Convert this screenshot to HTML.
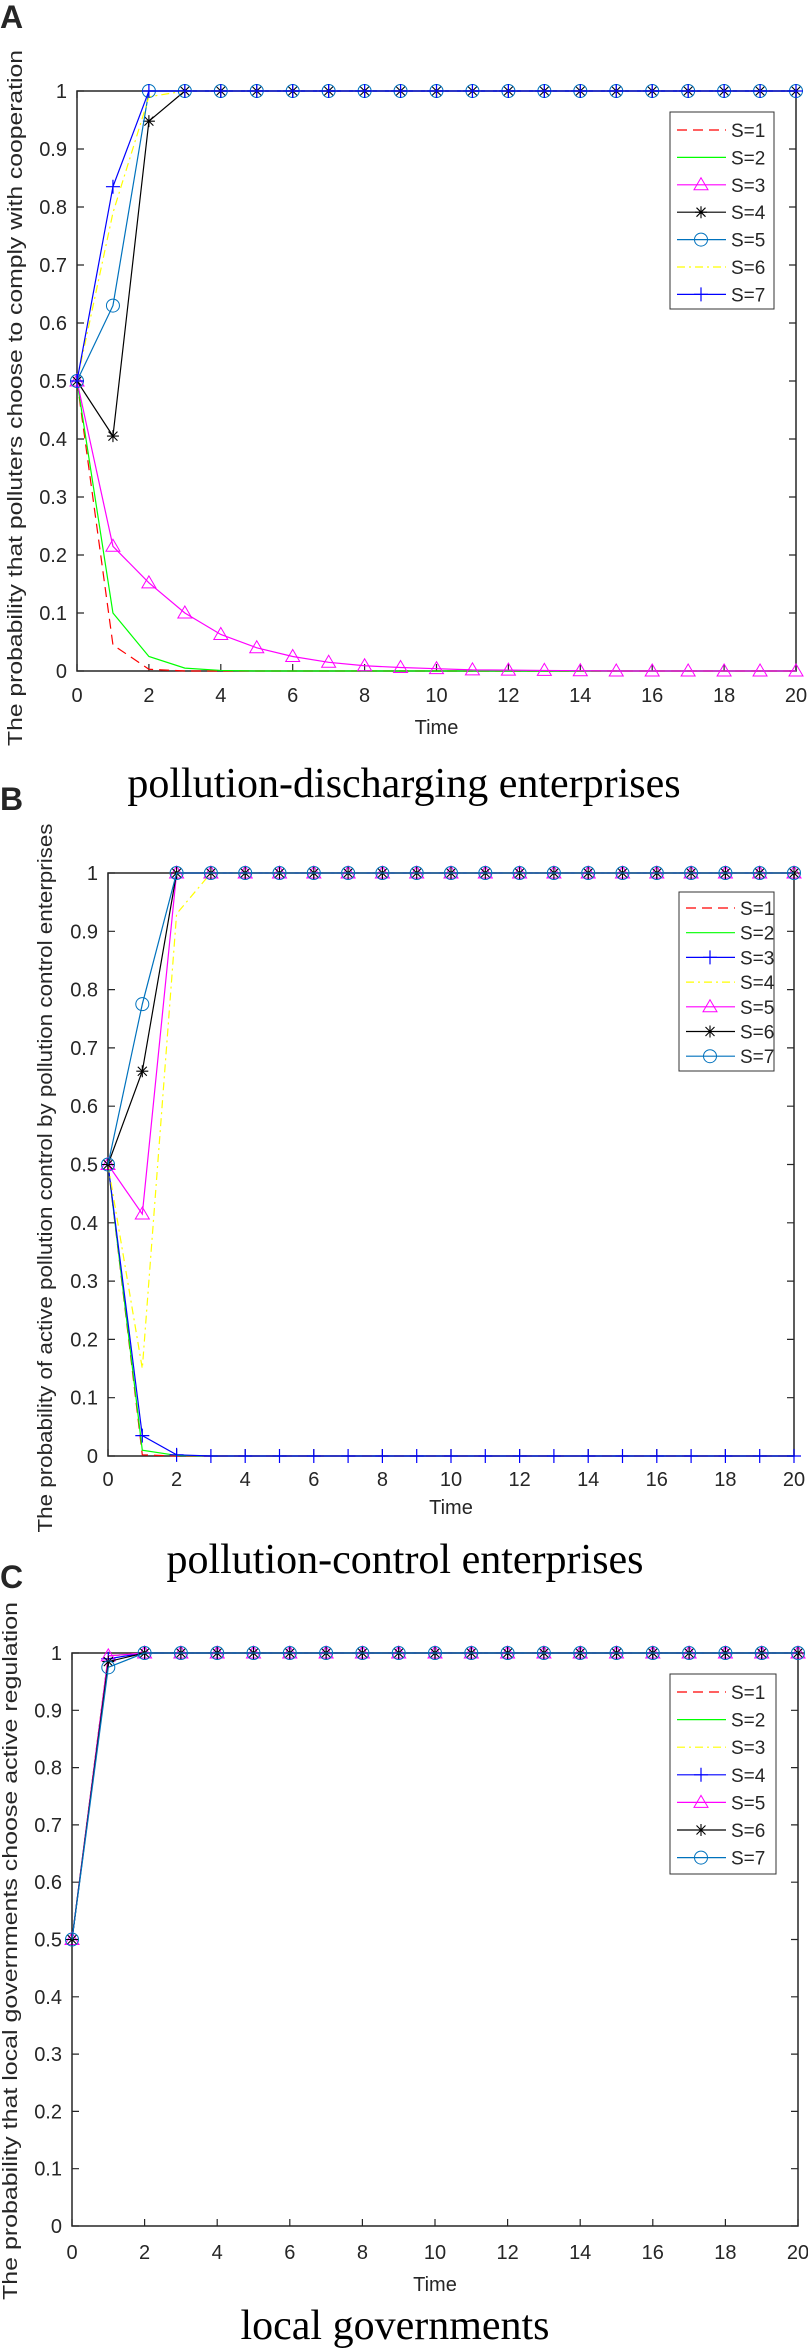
<!DOCTYPE html>
<html><head><meta charset="utf-8"><style>
html,body{margin:0;padding:0;background:#fff;}
svg{display:block;}
text{font-family:"Liberation Sans",Arial,sans-serif;fill:#262626;}
.serif{font-family:"Liberation Serif","Times New Roman",serif;fill:#000;}
</style></head><body>
<svg id="fig" width="808" height="2350" viewBox="0 0 808 2350" xmlns="http://www.w3.org/2000/svg"></svg>
<script>
// ---- data ----
const timeSteps = [0,1,2,3,4,5,6,7,8,9,10,11,12,13,14,15,16,17,18,19,20];
const xTickLabels = [0,2,4,6,8,10,12,14,16,18,20];
const yTickLabels = [0,0.1,0.2,0.3,0.4,0.5,0.6,0.7,0.8,0.9,1];
const seriesNames = ["S=1","S=2","S=3","S=4","S=5","S=6","S=7"];
// Panel A
const A_s1 = [0.5,0.045,0.003,0,0,0,0,0,0,0,0,0,0,0,0,0,0,0,0,0,0];
const A_s2 = [0.5,0.10,0.025,0.005,0.001,0,0,0,0,0,0,0,0,0,0,0,0,0,0,0,0];
const A_s3 = [0.5,0.215,0.152,0.10,0.063,0.040,0.025,0.015,0.009,0.006,0.004,0.002,0.0015,0.001,0.0005,0,0,0,0,0,0];
const A_s4 = [0.5,0.405,0.948,1,1,1,1,1,1,1,1,1,1,1,1,1,1,1,1,1,1];
const A_s5 = [0.5,0.63,1,1,1,1,1,1,1,1,1,1,1,1,1,1,1,1,1,1,1];
const A_s6 = [0.5,0.79,0.99,1,1,1,1,1,1,1,1,1,1,1,1,1,1,1,1,1,1];
const A_s7 = [0.5,0.835,1,1,1,1,1,1,1,1,1,1,1,1,1,1,1,1,1,1,1];
// Panel B
const B_s1 = [0.5,0.002,0,0,0,0,0,0,0,0,0,0,0,0,0,0,0,0,0,0,0];
const B_s2 = [0.5,0.01,0.001,0,0,0,0,0,0,0,0,0,0,0,0,0,0,0,0,0,0];
const B_s3 = [0.5,0.035,0.002,0,0,0,0,0,0,0,0,0,0,0,0,0,0,0,0,0,0];
const B_s4 = [0.5,0.15,0.93,1,1,1,1,1,1,1,1,1,1,1,1,1,1,1,1,1,1];
const B_s5 = [0.5,0.415,1,1,1,1,1,1,1,1,1,1,1,1,1,1,1,1,1,1,1];
const B_s6 = [0.5,0.66,1,1,1,1,1,1,1,1,1,1,1,1,1,1,1,1,1,1,1];
const B_s7 = [0.5,0.775,1,1,1,1,1,1,1,1,1,1,1,1,1,1,1,1,1,1,1];
// Panel C
const C_s1 = [0.5,0.995,1,1,1,1,1,1,1,1,1,1,1,1,1,1,1,1,1,1,1];
const C_s2 = [0.5,0.995,1,1,1,1,1,1,1,1,1,1,1,1,1,1,1,1,1,1,1];
const C_s3 = [0.5,0.995,1,1,1,1,1,1,1,1,1,1,1,1,1,1,1,1,1,1,1];
const C_s4 = [0.5,0.99,1,1,1,1,1,1,1,1,1,1,1,1,1,1,1,1,1,1,1];
const C_s5 = [0.5,0.995,1,1,1,1,1,1,1,1,1,1,1,1,1,1,1,1,1,1,1];
const C_s6 = [0.5,0.985,1,1,1,1,1,1,1,1,1,1,1,1,1,1,1,1,1,1,1];
const C_s7 = [0.5,0.975,1,1,1,1,1,1,1,1,1,1,1,1,1,1,1,1,1,1,1];

const NS = "http://www.w3.org/2000/svg";
const svg = document.getElementById('fig');
function mk(tag, attrs, parent){
  const e = document.createElementNS(NS, tag);
  for (const k in attrs) e.setAttribute(k, attrs[k]);
  (parent||svg).appendChild(e);
  return e;
}
const ST = {
  r:{color:"#ff0000",dash:"10,6",marker:null},
  g:{color:"#00ff00",dash:null,marker:null},
  y:{color:"#ffff00",dash:"8,4,2,4",marker:null},
  m:{color:"#ff00ff",dash:null,marker:"tri"},
  k:{color:"#000000",dash:null,marker:"star"},
  c:{color:"#0072bd",dash:null,marker:"circ"},
  b:{color:"#0000ff",dash:null,marker:"plus"}
};
function marker(g, type, x, y, color){
  let e;
  if (type==="circ"){ e = mk('circle',{cx:x,cy:y,r:6.5,fill:"none",stroke:color,"stroke-width":1},g); }
  else if (type==="tri"){ e = mk('path',{d:`M${x},${y-7} L${x+7},${y+5} L${x-7},${y+5} Z`,fill:"none",stroke:color,"stroke-width":1},g); }
  else if (type==="plus"){ e = mk('path',{d:`M${x-7},${y} H${x+7} M${x},${y-7} V${y+7}`,stroke:color,"stroke-width":1.2},g); }
  else if (type==="star"){ e = mk('path',{d:`M${x-6},${y} H${x+6} M${x},${y-6} V${y+6} M${x-4.5},${y-4.5} L${x+4.5},${y+4.5} M${x-4.5},${y+4.5} L${x+4.5},${y-4.5}`,stroke:color,"stroke-width":1.1},g); }
  if (e){
    
    
  }
}
function panel(cfg){
  const {L,R,T,B,letter,letterY,ylabel,ylx,yly,ylLen,timeY,tickY,sub,subX,subY,series,styles,leg} = cfg;
  const g = mk('g',{});
  
  
  const xs = t => L + (t-0)/(20-0)*(R-L);
  const ys = v => B - v*(B-T);
  const lt = mk('text',{x:0,y:letterY,"font-size":32,"font-weight":"bold",fill:"#000"},g);
  lt.textContent = letter;
  
  
  const box = mk('rect',{x:L,y:T,width:R-L,height:B-T,fill:"none",stroke:"#262626","stroke-width":1.5},g);
  
  
  xTickLabels.forEach(t=>{
    const x = xs(t);
    mk('path',{d:`M${x},${B} V${B-7} M${x},${T} V${T+7}`,stroke:"#262626","stroke-width":1.2},g);
    const tx = mk('text',{x:x,y:tickY+7,"font-size":20,"text-anchor":"middle"},g);
    tx.textContent = t;
    
    
  });
  yTickLabels.forEach(v=>{
    const y = ys(v);
    mk('path',{d:`M${L},${y} H${L+7} M${R},${y} H${R-7}`,stroke:"#262626","stroke-width":1.2},g);
    const tx = mk('text',{x:L-10,y:y+7,"font-size":20,"text-anchor":"end"},g);
    tx.textContent = v;
    
    
  });
  const tl = mk('text',{x:(L+R)/2,y:timeY+7,"font-size":20,"text-anchor":"middle"},g);
  tl.textContent = "Time";
  
  
  const yl = mk('text',{x:0,y:0,"font-size":20,"text-anchor":"middle",transform:`translate(${ylx},${yly}) rotate(-90)`,textLength:ylLen,lengthAdjust:"spacingAndGlyphs"},g);
  yl.textContent = ylabel;
  
  
  series.forEach((data,i)=>{
    const st = ST[styles[i]];
    const sg = mk('g',{},g);
    
    
    const pts = data.map((v,j)=>`${xs(timeSteps[j]).toFixed(2)},${ys(v).toFixed(2)}`).join(' ');
    const pl = mk('polyline',{points:pts,fill:"none",stroke:st.color,"stroke-width":1.2},sg);
    if (st.dash) pl.setAttribute('stroke-dasharray',st.dash);
    
    
    if (st.marker) data.forEach((v,j)=>marker(sg,st.marker,xs(timeSteps[j]),ys(v),st.color));
  });
  const lg = mk('g',{},g);
  
  
  mk('rect',{x:leg.x,y:leg.y,width:leg.w,height:leg.h,fill:"#fff",stroke:"#333","stroke-width":1},lg);
  seriesNames.forEach((n,i)=>{
    const st = ST[styles[i]];
    const y = leg.y0 + i*leg.dy;
    const eg = mk('g',{},lg);
    
    
    const ln = mk('line',{x1:leg.x+7,x2:leg.x+56,y1:y,y2:y,stroke:st.color,"stroke-width":1.2},eg);
    if (st.dash) ln.setAttribute('stroke-dasharray',st.dash);
    if (st.marker) marker(eg,st.marker,leg.x+31,y,st.color);
    const t = mk('text',{x:leg.x+61,y:y+7,"font-size":19,fill:"#000"},eg);
    t.textContent = n;
  });
  const s = mk('text',{x:subX,y:subY,"font-size":42,"text-anchor":"middle",class:"serif"},g);
  s.textContent = sub;
  
  
}
panel({name:'panel-a-polluters',L:77,R:796,T:91,B:671,letter:"A",letterY:28,
  ylabel:"The probability that polluters choose to comply with cooperation",ylx:22,yly:398,ylLen:696,
  timeY:727,tickY:695,sub:"pollution-discharging enterprises",subX:404,subY:797,
  series:[A_s1,A_s2,A_s3,A_s4,A_s5,A_s6,A_s7],styles:["r","g","m","k","c","y","b"],
  leg:{x:670,y:112,w:104,h:197,y0:130,dy:27.4}});
panel({name:'panel-b-control',L:108,R:794,T:873,B:1456,letter:"B",letterY:810,
  ylabel:"The probability of active pollution control by pollution control enterprises",ylx:52,yly:1178,ylLen:709,
  timeY:1507,tickY:1479,sub:"pollution-control enterprises",subX:405,subY:1573,
  series:[B_s1,B_s2,B_s3,B_s4,B_s5,B_s6,B_s7],styles:["r","g","b","y","m","k","c"],
  leg:{x:679,y:892,w:95,h:179,y0:908,dy:24.7}});
panel({name:'panel-c-governments',L:72,R:798,T:1653,B:2226,letter:"C",letterY:1588,
  ylabel:"The probability that local governments choose active regulation",ylx:17,yly:1951,ylLen:698,
  timeY:2284,tickY:2252,sub:"local governments",subX:395,subY:2339,
  series:[C_s1,C_s2,C_s3,C_s4,C_s5,C_s6,C_s7],styles:["r","g","y","b","m","k","c"],
  leg:{x:670,y:1674,w:106,h:200,y0:1692,dy:27.6}});
</script>
</body></html>
